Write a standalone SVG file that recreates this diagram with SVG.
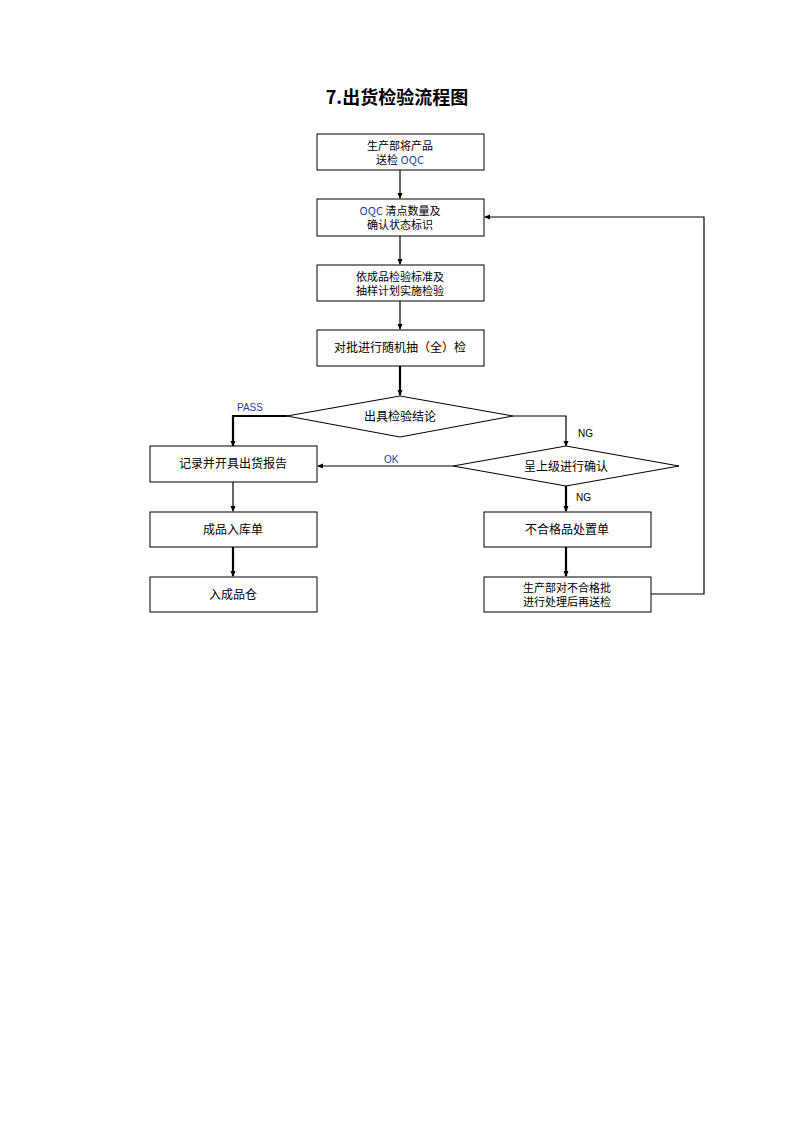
<svg xmlns="http://www.w3.org/2000/svg" width="794" height="1123" viewBox="0 0 794 1123">
<style>
.box{fill:#fff;stroke:#000;stroke-width:1}
.t{font-family:"Noto Sans CJK SC","Liberation Sans",sans-serif;font-size:12px;fill:#000;text-anchor:middle}
.t2{font-family:"Noto Sans CJK SC","Liberation Sans",sans-serif;font-size:11px;fill:#000;text-anchor:middle}
.lb{font-family:"Liberation Sans","Noto Sans CJK SC",sans-serif;font-size:10px;fill:#000}
.blue{fill:#1f3f9f}
.c{fill:none;stroke:#000;stroke-width:1.2}
.ck{fill:none;stroke:#000;stroke-width:2.2}
</style>
<defs>
<marker id="ah" markerWidth="6" markerHeight="6" refX="5" refY="3" orient="auto" markerUnits="userSpaceOnUse">
<path d="M0,0.5 L6,3 L0,5.5 z" fill="#000"/>
</marker>
</defs>
<rect width="794" height="1123" fill="#fff"/>
<text x="397" y="104" style="font-family:'Noto Sans CJK SC','Liberation Sans',sans-serif;font-size:18px;font-weight:bold;text-anchor:middle">7.出货检验流程图</text>
<g id="connectors">
<line class="c" x1="400" y1="170" x2="400" y2="198" marker-end="url(#ah)"/>
<line class="c" x1="400" y1="236" x2="400" y2="264" marker-end="url(#ah)"/>
<line class="c" x1="400" y1="301" x2="400" y2="329" marker-end="url(#ah)"/>
<line class="ck" x1="400" y1="366" x2="400" y2="395" marker-end="url(#ah)"/>
<polyline class="ck" points="287,416 233,416 233,446" marker-end="url(#ah)"/>
<polyline class="c" points="513,416 566,416 566,446" marker-end="url(#ah)"/>
<line class="c" x1="453" y1="466" x2="318" y2="466" marker-end="url(#ah)"/>
<line class="c" x1="233" y1="482" x2="233" y2="511" marker-end="url(#ah)"/>
<line class="ck" x1="233" y1="547" x2="233" y2="576" marker-end="url(#ah)"/>
<line class="ck" x1="566" y1="486" x2="566" y2="511" marker-end="url(#ah)"/>
<line class="ck" x1="566" y1="547" x2="566" y2="576" marker-end="url(#ah)"/>
<polyline class="c" points="651,594 704,594 704,217 485,217" marker-end="url(#ah)"/>
<text class="lb blue" x="237" y="411">PASS</text>
<text class="lb" x="578" y="437">NG</text>
<text class="lb blue" x="384" y="463">OK</text>
<text class="lb" x="576" y="501">NG</text>
</g>
<g id="n1"><rect class="box" x="317" y="134" width="167" height="36"/>
<text class="t2" x="400" y="150">生产部将产品</text>
<text class="t2" x="400" y="164">送检 <tspan class="blue">OQC</tspan></text></g>
<g id="n2"><rect class="box" x="317" y="199" width="167" height="37"/>
<text class="t2" x="400" y="215"><tspan class="blue">OQC</tspan> 清点数量及</text>
<text class="t2" x="400" y="229">确认状态标识</text></g>
<g id="n3"><rect class="box" x="317" y="265" width="167" height="36"/>
<text class="t2" x="400" y="281">依成品检验标准及</text>
<text class="t2" x="400" y="295">抽样计划实施检验</text></g>
<g id="n4"><rect class="box" x="317" y="330" width="167" height="36"/>
<text class="t" x="400" y="352">对批进行随机抽（全）检</text></g>
<g id="d1"><polygon class="box" points="287,416 400,396 513,416 400,437"/>
<text class="t" x="400" y="421">出具检验结论</text></g>
<g id="n5"><rect class="box" x="150" y="446" width="167" height="36"/>
<text class="t" x="233" y="468">记录并开具出货报告</text></g>
<g id="d2"><polygon class="box" points="453,466 566,446 679,466 566,486"/>
<text class="t" x="566" y="471">呈上级进行确认</text></g>
<g id="n6"><rect class="box" x="150" y="512" width="167" height="35"/>
<text class="t" x="233" y="534">成品入库单</text></g>
<g id="n7"><rect class="box" x="150" y="577" width="167" height="35"/>
<text class="t" x="233" y="599">入成品仓</text></g>
<g id="n8"><rect class="box" x="484" y="512" width="167" height="35"/>
<text class="t" x="567" y="534">不合格品处置单</text></g>
<g id="n9"><rect class="box" x="484" y="577" width="167" height="35"/>
<text class="t2" x="567" y="592">生产部对不合格批</text>
<text class="t2" x="567" y="606">进行处理后再送检</text></g>
</svg>
